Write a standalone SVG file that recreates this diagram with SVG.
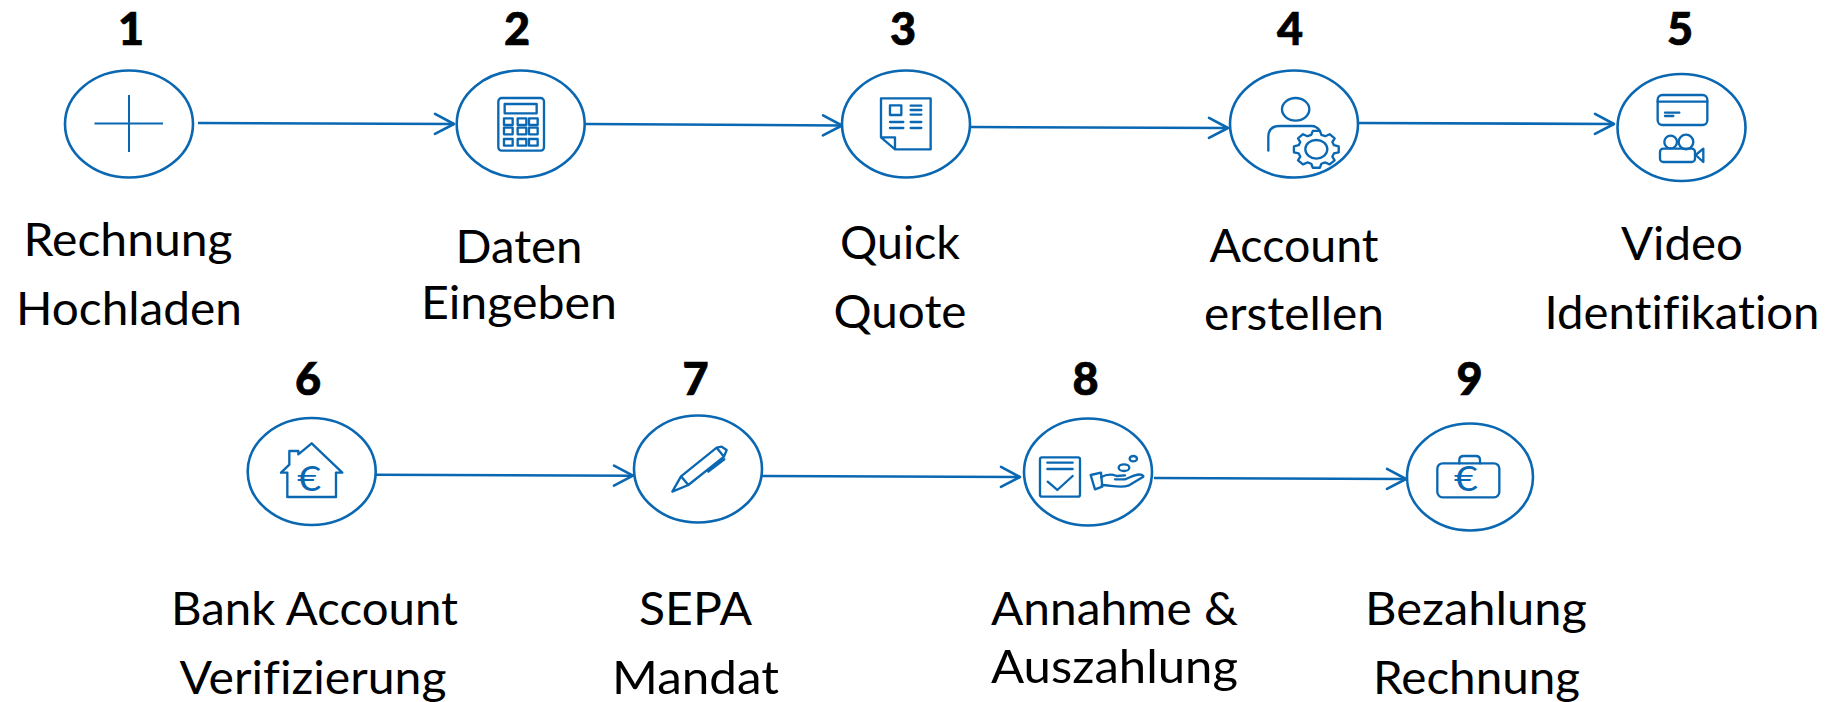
<svg xmlns="http://www.w3.org/2000/svg" width="1836" height="702" viewBox="0 0 1836 702">
<defs>
<marker id="arr" markerUnits="userSpaceOnUse" markerWidth="26" markerHeight="28" refX="22" refY="14" orient="auto" viewBox="0 0 26 28"><path d="M3 4 L22 14 L3 24" fill="none" stroke="#0a67b2" stroke-width="2.600" stroke-linecap="round" stroke-linejoin="round"/></marker>
</defs>
<style>
.c{fill:#fff;stroke:#0a67b2;stroke-width:2.600}
.l{fill:none;stroke:#0a67b2;stroke-width:2.600;marker-end:url(#arr)}
.i{fill:none;stroke:#0a67b2;stroke-width:7;stroke-linejoin:round;stroke-linecap:round}
.n{font-family:"Lato","Liberation Sans",sans-serif;font-weight:900;font-size:45px;fill:#000;stroke:#000;stroke-width:.7;text-anchor:middle}
.t{font-family:"Lato","Liberation Sans",sans-serif;font-size:47px;fill:#000;text-anchor:middle;font-variant-ligatures:none}
.e{font-family:"Lato","Liberation Sans",sans-serif;font-size:104px;fill:#0a67b2;text-anchor:middle}
</style>
<rect width="1836" height="702" fill="#fff"/>
<g id="connectors">
<line class="l" x1="198" y1="123" x2="454" y2="124"/>
<line class="l" x1="586" y1="124" x2="842" y2="125.500"/>
<line class="l" x1="971" y1="127" x2="1228" y2="128"/>
<line class="l" x1="1357" y1="123" x2="1614" y2="124"/>
<line class="l" x1="376" y1="474.700" x2="633" y2="475.700"/>
<line class="l" x1="762" y1="476" x2="1020" y2="477"/>
<line class="l" x1="1154" y1="478" x2="1406" y2="479"/>
</g>
<g id="node1">
<text class="n" x="131" y="45">1</text>
<ellipse class="c" cx="129" cy="124" rx="64" ry="53.500"/>
<path d="M94.500 123.500H163M129 95V152" fill="none" stroke="#0a67b2" stroke-width="2"/>
<text class="t" x="128" y="256" textLength="209" lengthAdjust="spacingAndGlyphs">Rechnung</text><text class="t" x="129" y="325" textLength="226" lengthAdjust="spacingAndGlyphs">Hochladen</text>
</g>
<g id="node2">
<text class="n" x="517" y="45">2</text>
<ellipse class="c" cx="520.700" cy="124" rx="64" ry="53.500"/>
<g transform="translate(430 50) scale(.3333)" class="i">
<rect x="205" y="144" width="137" height="158" rx="10"/><rect x="224" y="162" width="96" height="28"/>
<rect x="222" y="205" width="26" height="20"/><rect x="263" y="205" width="26" height="20"/><rect x="297" y="205" width="26" height="20"/>
<rect x="222" y="233" width="26" height="20"/><rect x="263" y="233" width="26" height="20"/><rect x="297" y="233" width="26" height="20"/>
<rect x="222" y="267" width="26" height="20"/><rect x="263" y="267" width="26" height="20"/><rect x="297" y="267" width="26" height="20"/>
</g>
<text class="t" x="519" y="263" textLength="127" lengthAdjust="spacingAndGlyphs">Daten</text><text class="t" x="519" y="319" textLength="196" lengthAdjust="spacingAndGlyphs">Eingeben</text>
</g>
<g id="node3">
<text class="n" x="903" y="45">3</text>
<ellipse class="c" cx="906" cy="124" rx="64" ry="53.500"/>
<g transform="translate(800 50) scale(.3333)" class="i">
<path d="M243 262V145H392V298H285ZM243 262H285V298"/>
<rect x="270" y="166" width="34" height="29"/>
<path d="M332 167H364M332 180H364M332 194H364M270 216H310M270 234H310M332 216H364M332 234H364"/>
</g>
<text class="t" x="900" y="259" textLength="120" lengthAdjust="spacingAndGlyphs">Quick</text><text class="t" x="900" y="328" textLength="133" lengthAdjust="spacingAndGlyphs">Quote</text>
</g>
<g id="node4">
<text class="n" x="1290" y="45">4</text>
<ellipse class="c" cx="1294" cy="124" rx="64" ry="53.500"/>
<g transform="translate(1200 50) scale(.3333)" class="i">
<ellipse cx="287" cy="178" rx="41" ry="34"/>
<path d="M205 302V260Q205 228 240 228H335Q350 228 360 243"/>
<g transform="translate(349 298)"><polygon points="52.900,-12.400 67.200,-8.800 67.200,8.800 52.900,12.400 48.100,21.800 55,32.900 40,45.300 26.700,39.400 15.200,43.300 10.600,55.300 -10.600,55.300 -15.200,43.300 -26.700,39.400 -40,45.300 -55,32.900 -48.100,21.800 -52.900,12.400 -67.200,8.800 -67.200,-8.800 -52.900,-12.400 -48.100,-21.800 -55,-32.900 -40,-45.300 -26.700,-39.400 -15.200,-43.300 -10.600,-55.300 10.600,-55.300 15.200,-43.300 26.700,-39.400 40,-45.300 55,-32.900 48.100,-21.800" style="fill:#fff"/><ellipse rx="33" ry="28"/></g>
</g>
<text class="t" x="1294" y="262" textLength="169" lengthAdjust="spacingAndGlyphs">Account</text><text class="t" x="1294" y="330" textLength="180" lengthAdjust="spacingAndGlyphs">erstellen</text>
</g>
<g id="node5">
<text class="n" x="1680" y="45">5</text>
<ellipse class="c" cx="1681.500" cy="127.500" rx="64" ry="53.500"/>
<g transform="translate(1600 50) scale(.3333)" class="i">
<rect x="173" y="135" width="149" height="90" rx="14"/>
<path d="M173 155H322"/><path d="M195 188H238M195 198H220"/>
<circle cx="212" cy="276" r="19"/><circle cx="258" cy="276" r="22"/>
<rect x="180" y="296" width="105" height="40" rx="10"/>
<path d="M287 315L310 296V336Z"/>
</g>
<text class="t" x="1682" y="260" textLength="122" lengthAdjust="spacingAndGlyphs">Video</text><text class="t" x="1682" y="329" textLength="275" lengthAdjust="spacingAndGlyphs">Identifikation</text>
</g>
<g id="node6">
<text class="n" x="308" y="395">6</text>
<ellipse class="c" cx="311.700" cy="471.500" rx="64" ry="53.500"/>
<g transform="translate(230 400) scale(.3333)">
<path class="i" d="M153 218L178 194V153H205V163L245 130L337 218H318V291H172V218Z"/>
<text class="e" x="238" y="272" textLength="72" lengthAdjust="spacingAndGlyphs">€</text>
</g>
<text class="t" x="314.500" y="625" textLength="287" lengthAdjust="spacingAndGlyphs">Bank Account</text><text class="t" x="313" y="694" textLength="267" lengthAdjust="spacingAndGlyphs">Verifizierung</text>
</g>
<g id="node7">
<text class="n" x="695.500" y="395">7</text>
<ellipse class="c" cx="698" cy="469" rx="64" ry="53.500"/>
<g transform="translate(620 400) scale(.3333)" class="i">
<path d="M157 275L183 229L205 255ZM183 229L290 143L312 170L205 255M290 143L305 140L320 150L312 170M313 178L265 215"/>
</g>
<text class="t" x="695.500" y="625" textLength="113" lengthAdjust="spacingAndGlyphs">SEPA</text><text class="t" x="695.500" y="694" textLength="167" lengthAdjust="spacingAndGlyphs">Mandat</text>
</g>
<g id="node8">
<text class="n" x="1085.500" y="395">8</text>
<ellipse class="c" cx="1088" cy="472" rx="64" ry="53.500"/>
<g transform="translate(1000 400) scale(.3333)" class="i">
<rect x="120" y="172" width="120" height="118" rx="6"/>
<path d="M142 188H218M142 207H218M143 245L172 270L218 228"/>
<path d="M272 225L303 218L307 260L285 268Z"/>
<path d="M303 232C320 222 335 222 350 228L375 226M375 238H345M430 228C420 215 395 230 375 238M305 255C330 255 360 265 385 257L430 230"/>
<ellipse cx="372" cy="203" rx="16" ry="10"/><ellipse cx="400" cy="176" rx="11" ry="8"/>
</g>
<text class="t" x="1114.500" y="625" textLength="247" lengthAdjust="spacingAndGlyphs">Annahme &amp;</text><text class="t" x="1114.500" y="683" textLength="247" lengthAdjust="spacingAndGlyphs">Auszahlung</text>
</g>
<g id="node9">
<text class="n" x="1469.500" y="395">9</text>
<ellipse class="c" cx="1470" cy="477" rx="63" ry="53.500"/>
<g transform="translate(1380 400) scale(.3333)">
<g class="i"><rect x="172" y="190" width="186" height="102" rx="16"/>
<path d="M238 190V180Q238 168 252 168H288Q300 168 300 180V190"/></g>
<text class="e" x="258" y="274" textLength="72" lengthAdjust="spacingAndGlyphs">€</text>
</g>
<text class="t" x="1476" y="625" textLength="222" lengthAdjust="spacingAndGlyphs">Bezahlung</text><text class="t" x="1476.500" y="694" textLength="207" lengthAdjust="spacingAndGlyphs">Rechnung</text>
</g>
</svg>
